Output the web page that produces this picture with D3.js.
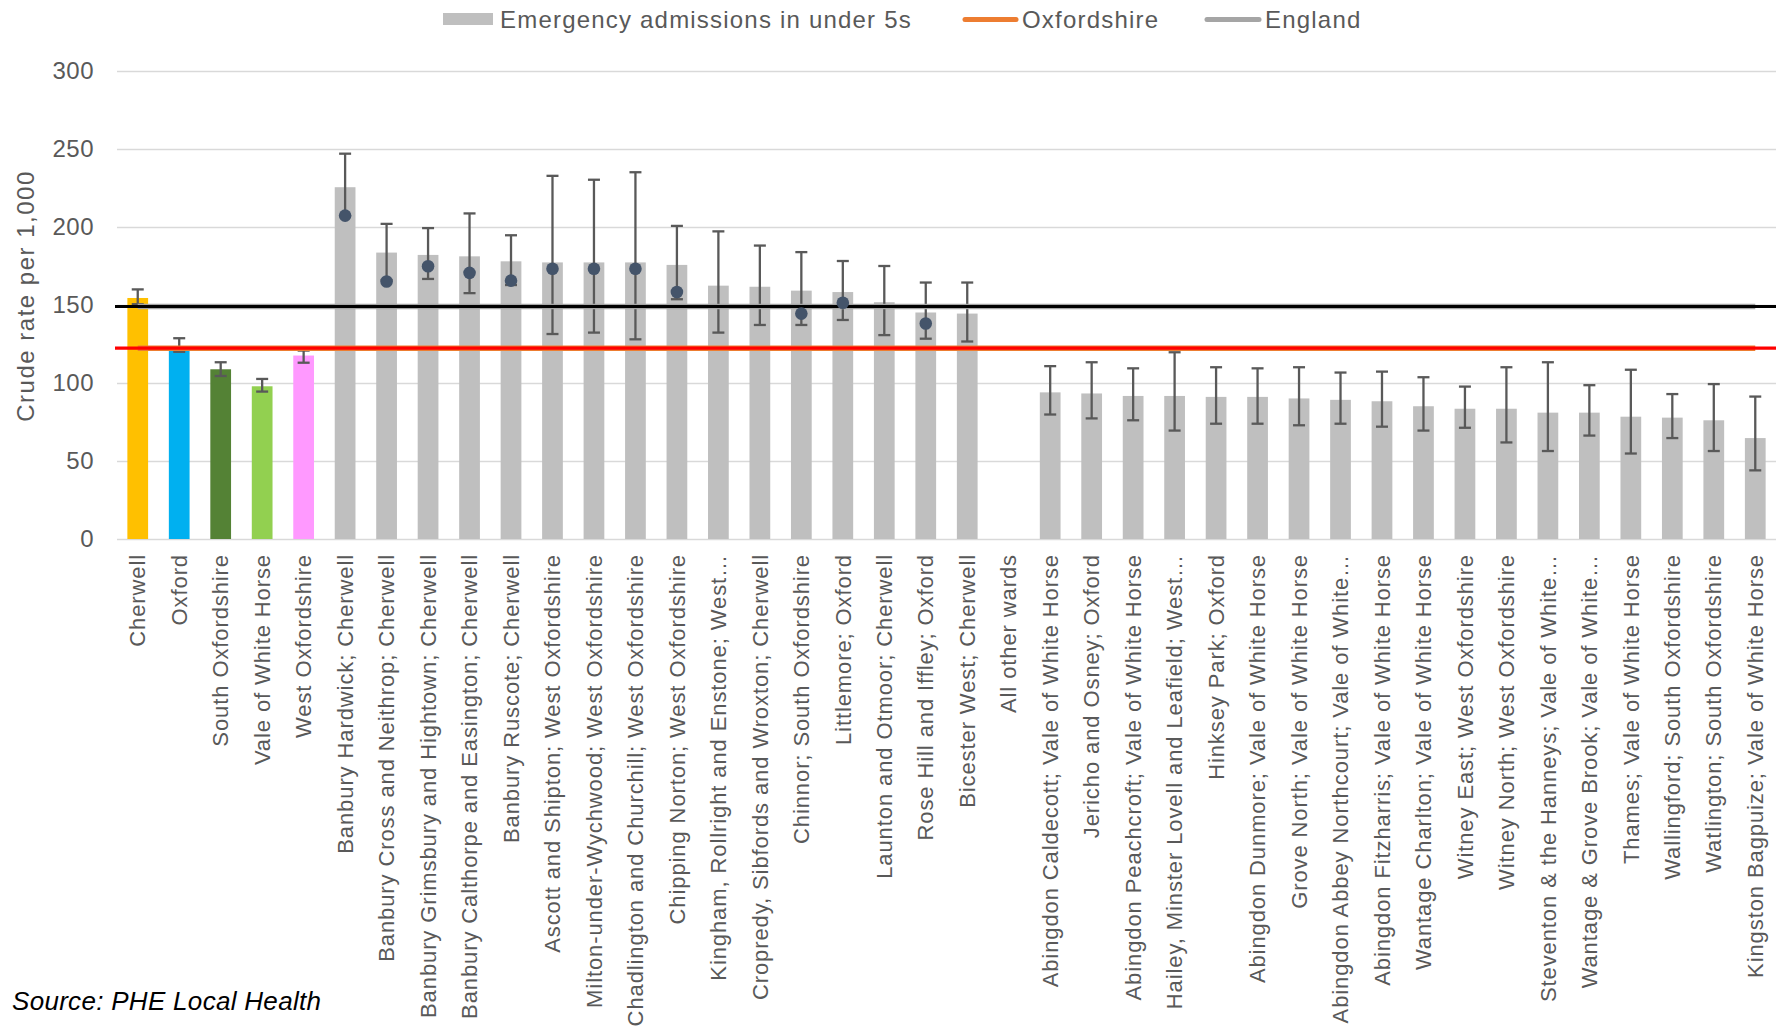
<!DOCTYPE html>
<html>
<head>
<meta charset="utf-8">
<script src="https://cdn.jsdelivr.net/npm/d3@7"></script>
<style>
  html, body { margin: 0; padding: 0; background: #ffffff; }
  svg { display: block; }
</style>
</head>
<body>
<svg id="chart" width="1787" height="1027"></svg>
<script>
// ---------------- DATA ----------------
const categories = [
  "Cherwell", "Oxford", "South Oxfordshire", "Vale of White Horse", "West Oxfordshire",
  "Banbury Hardwick; Cherwell", "Banbury Cross and Neithrop; Cherwell",
  "Banbury Grimsbury and Hightown; Cherwell", "Banbury Calthorpe and Easington; Cherwell",
  "Banbury Ruscote; Cherwell", "Ascott and Shipton; West Oxfordshire",
  "Milton-under-Wychwood; West Oxfordshire", "Chadlington and Churchill; West Oxfordshire",
  "Chipping Norton; West Oxfordshire", "Kingham, Rollright and Enstone; West…",
  "Cropredy, Sibfords and Wroxton; Cherwell", "Chinnor; South Oxfordshire",
  "Littlemore; Oxford", "Launton and Otmoor; Cherwell", "Rose Hill and Iffley; Oxford",
  "Bicester West; Cherwell", "All other wards",
  "Abingdon Caldecott; Vale of White Horse", "Jericho and Osney; Oxford",
  "Abingdon Peachcroft; Vale of White Horse", "Hailey, Minster Lovell and Leafield; West…",
  "Hinksey Park; Oxford", "Abingdon Dunmore; Vale of White Horse",
  "Grove North; Vale of White Horse", "Abingdon Abbey Northcourt; Vale of White…",
  "Abingdon Fitzharris; Vale of White Horse", "Wantage Charlton; Vale of White Horse",
  "Witney East; West Oxfordshire", "Witney North; West Oxfordshire",
  "Steventon & the Hanneys; Vale of White…", "Wantage & Grove Brook; Vale of White…",
  "Thames; Vale of White Horse", "Wallingford; South Oxfordshire",
  "Watlington; South Oxfordshire", "Kingston Bagpuize; Vale of White Horse"
];

// Emergency admissions in under 5s, crude rate per 1,000
const rates = [
  154.5, 121.0, 108.8, 97.9, 117.6,
  225.5, 183.6, 182.1, 181.2, 178.0,
  177.3, 177.3, 177.3, 175.7, 162.4,
  161.7, 159.2, 158.3, 151.8, 145.2,
  144.5, null,
  94.0, 93.3, 91.7, 91.7, 91.1, 91.1, 90.1, 89.2, 88.3, 85.1,
  83.5, 83.5, 81.0, 81.0, 78.4, 77.8, 76.1, 64.7
];
const ciLower = [
  150.5, 120.0, 104.5, 94.5, 113.0,
  207.0, 166.0, 166.7, 157.6, 162.8,
  131.4, 132.3, 128.0, 153.7, 132.3,
  137.2, 137.2, 140.4, 130.7, 128.4,
  126.6, null,
  79.8, 77.3, 76.1, 69.5, 73.9, 73.9, 72.9, 73.9, 72.0, 69.5,
  71.3, 61.9, 56.4, 66.3, 54.8, 64.7, 56.4, 44.0
];
const ciUpper = [
  160.0, 128.7, 113.3, 102.6, 120.8,
  247.0, 202.0, 199.3, 208.7, 194.7,
  232.8, 230.3, 235.1, 200.7, 197.2,
  188.1, 183.9, 178.2, 175.0, 164.4,
  164.4, null,
  110.8, 113.3, 109.4, 119.7, 110.1, 109.4, 110.1, 106.7, 107.3, 103.7,
  97.7, 110.1, 113.3, 98.6, 108.5, 92.9, 99.3, 91.3
];
// marker values (dark dots)
const markers = [
  null, null, null, null, null,
  207.3, 165.1, 174.8, 170.6, 165.6,
  173.2, 173.2, 173.2, 158.3, null,
  null, 144.5, 151.4, null, 138.1,
  null, null,
  null, null, null, null, null, null, null, null, null, null,
  null, null, null, null, null, null, null, null
];
const oxfordshireRate = 122.3;
const englandRate = 149.0;

const yTicks = [0, 50, 100, 150, 200, 250, 300];
const legendLabels = ["Emergency admissions in under 5s", "Oxfordshire", "England"];
const yAxisTitle = "Crude rate per 1,000";
const sourceText = "Source: PHE Local Health";

// ---------------- STYLE ----------------
const districtColours = {
  "Cherwell": "#FFC000",
  "Oxford": "#00B0F0",
  "South Oxfordshire": "#548235",
  "Vale of White Horse": "#92D050",
  "West Oxfordshire": "#FF99FF"
};
const barGrey = "#BFBFBF";
const textColour = "#595959";
const fontFamily = "'Liberation Sans', Arial, Helvetica, sans-serif";

const plot = { left: 117, right: 1776, top: 71, bottom: 539 };

// ---------------- DRAW ----------------
const svg = d3.select("#chart");

const x = d3.scaleBand()
  .domain(categories)
  .range([plot.left, plot.right])
  .paddingInner(0.5)
  .paddingOuter(0.25);

const y = d3.scaleLinear()
  .domain([0, 300])
  .range([plot.bottom, plot.top]);

const data = categories.map((c, i) => ({
  cat: c, rate: rates[i], lo: ciLower[i], hi: ciUpper[i], marker: markers[i]
}));

// gridlines
const yAxis = d3.axisLeft(y).tickValues(yTicks).tickSize(-(plot.right - plot.left)).tickPadding(23);
const gy = svg.append("g")
  .attr("transform", `translate(${plot.left},0)`)
  .call(yAxis);
gy.select(".domain").remove();
gy.selectAll(".tick line").attr("stroke", "#D9D9D9").attr("stroke-width", 1.6);
gy.selectAll(".tick text")
  .attr("fill", textColour)
  .style("font-family", fontFamily)
  .style("font-size", "24px")
  .style("letter-spacing", "0.5px");

// bars
svg.append("g").selectAll("rect")
  .data(data.filter(d => d.rate != null))
  .join("rect")
  .attr("x", d => x(d.cat))
  .attr("width", x.bandwidth())
  .attr("y", d => y(d.rate))
  .attr("height", d => y(0) - y(d.rate))
  .attr("fill", d => districtColours[d.cat] || barGrey);

// error bars
const cap = 6;
const eb = svg.append("g").attr("stroke", "#595959").attr("stroke-width", 2.3).attr("fill", "none");
data.filter(d => d.lo != null).forEach(d => {
  const cx = x(d.cat) + x.bandwidth() / 2;
  eb.append("line").attr("x1", cx).attr("x2", cx).attr("y1", y(d.lo)).attr("y2", y(d.hi));
  eb.append("line").attr("x1", cx - cap).attr("x2", cx + cap).attr("y1", y(d.hi)).attr("y2", y(d.hi));
  eb.append("line").attr("x1", cx - cap).attr("x2", cx + cap).attr("y1", y(d.lo)).attr("y2", y(d.lo));
});

// series lines (Oxfordshire / England) across category centres
const xFirst = x(categories[0]) + x.bandwidth() / 2;
const xLast = x(categories[categories.length - 1]) + x.bandwidth() / 2;
const lineGen = d3.line().x(d => d[0]).y(d => y(d[1]));
svg.append("path")
  .attr("d", lineGen([[xFirst, englandRate], [xLast, englandRate]]))
  .attr("stroke", "#A5A5A5").attr("stroke-width", 5.5).attr("fill", "none");
svg.append("path")
  .attr("d", lineGen([[xFirst, oxfordshireRate], [xLast, oxfordshireRate]]))
  .attr("stroke", "#ED7D31").attr("stroke-width", 5.5).attr("fill", "none");
// overlaid reference lines across full plot
svg.append("path")
  .attr("d", lineGen([[plot.left - 2, englandRate], [plot.right, englandRate]]))
  .attr("stroke", "#000000").attr("stroke-width", 3).attr("fill", "none");
svg.append("path")
  .attr("d", lineGen([[plot.left - 2, oxfordshireRate], [plot.right, oxfordshireRate]]))
  .attr("stroke", "#FF0000").attr("stroke-width", 3.3).attr("fill", "none");

// markers
svg.append("g").selectAll("circle")
  .data(data.filter(d => d.marker != null))
  .join("circle")
  .attr("cx", d => x(d.cat) + x.bandwidth() / 2)
  .attr("cy", d => y(d.marker))
  .attr("r", 6.3)
  .attr("fill", "#44546A");

// category labels
svg.append("g").selectAll("text")
  .data(categories)
  .join("text")
  .attr("transform", d => `translate(${x(d) + x.bandwidth() / 2},${plot.bottom + 15}) rotate(-90)`)
  .attr("text-anchor", "end")
  .attr("dy", "0.35em")
  .attr("fill", textColour)
  .style("font-family", fontFamily)
  .style("font-size", "22px")
  .style("letter-spacing", "0.9px")
  .text(d => d);

// y-axis title
svg.append("text")
  .attr("transform", `translate(26,296) rotate(-90)`)
  .attr("text-anchor", "middle")
  .attr("dy", "0.35em")
  .attr("fill", textColour)
  .style("font-family", fontFamily)
  .style("font-size", "24px")
  .style("letter-spacing", "1.5px")
  .text(yAxisTitle);

// legend
const lg = svg.append("g").style("font-family", fontFamily).style("font-size", "24px").style("letter-spacing", "1.2px");
lg.append("rect").attr("x", 443).attr("y", 13).attr("width", 50).attr("height", 12).attr("fill", barGrey);
lg.append("text").attr("x", 500).attr("y", 28).attr("fill", textColour).text(legendLabels[0]);
lg.append("line").attr("x1", 965).attr("x2", 1016).attr("y1", 19.5).attr("y2", 19.5)
  .attr("stroke", "#ED7D31").attr("stroke-width", 5).attr("stroke-linecap", "round");
lg.append("text").attr("x", 1022).attr("y", 28).attr("fill", textColour).text(legendLabels[1]);
lg.append("line").attr("x1", 1207).attr("x2", 1259).attr("y1", 19.5).attr("y2", 19.5)
  .attr("stroke", "#A5A5A5").attr("stroke-width", 5).attr("stroke-linecap", "round");
lg.append("text").attr("x", 1265).attr("y", 28).attr("fill", textColour).text(legendLabels[2]);

// source
svg.append("text")
  .attr("x", 12).attr("y", 1010)
  .attr("fill", "#000000")
  .style("font-family", fontFamily)
  .style("font-style", "italic")
  .style("font-size", "26px")
  .style("letter-spacing", "0.3px")
  .text(sourceText);
</script>
</body>
</html>
